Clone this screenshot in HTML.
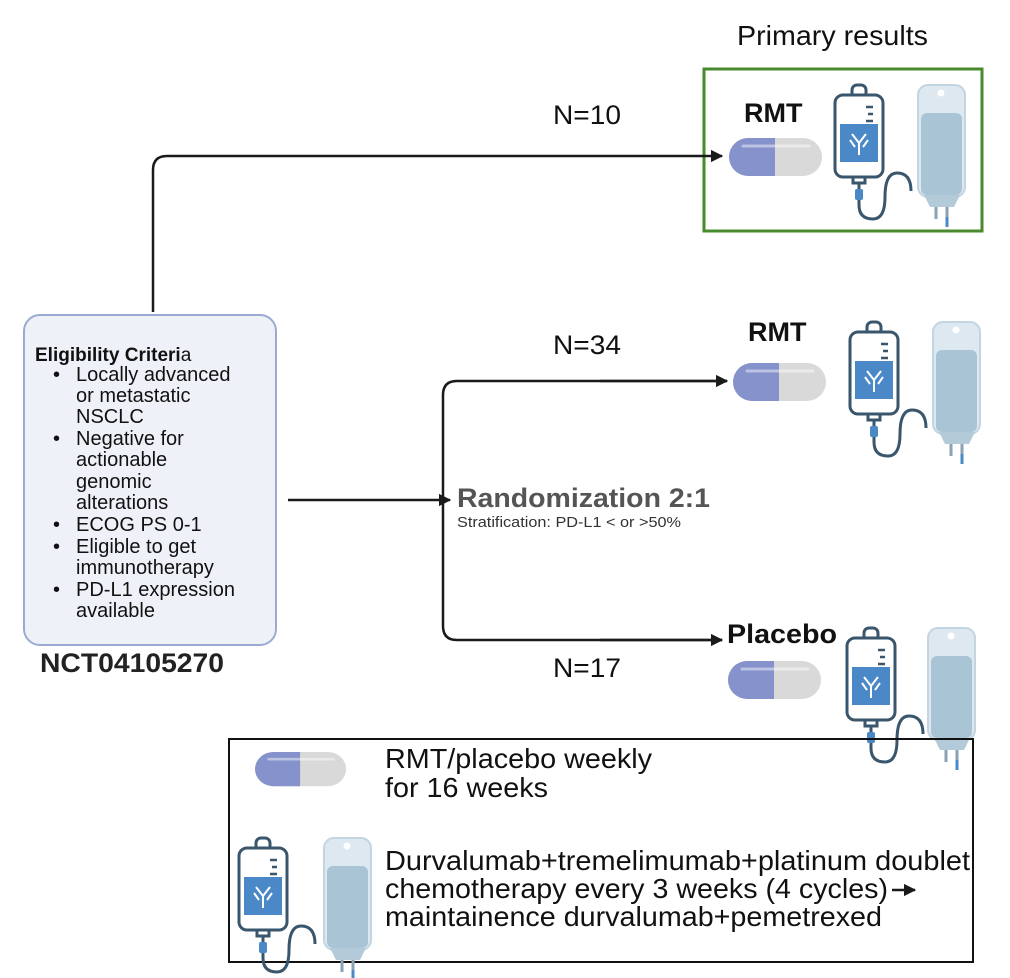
<!DOCTYPE html>
<html><head><style>
html,body{margin:0;padding:0;background:#fff;}
svg{display:block;font-family:"Liberation Sans",Arial,sans-serif;}
</style></head><body>
<svg width="1010" height="978" viewBox="0 0 1010 978" xmlns="http://www.w3.org/2000/svg">
<defs>
<marker id="ar" viewBox="0 0 10 10" refX="9" refY="5" markerWidth="5" markerHeight="5" orient="auto"><path d="M0,0 L10,5 L0,10 z" fill="#1a1a1a"/></marker>
<g id="pill">
<rect x="0" y="0" width="93" height="38" rx="19" fill="#d9d9d9"/>
<path d="M19,0 H46 V38 H19 A19,19 0 0 1 19,0 z" fill="#8592cc"/>
<line x1="14" y1="8" x2="80" y2="8" stroke="#fff" stroke-opacity="0.45" stroke-width="3" stroke-linecap="round"/>
</g>
<g id="iv">
<rect x="19" y="0" width="14" height="13" rx="5" fill="none" stroke="#3a566d" stroke-width="3"/>
<rect x="2" y="10" width="48" height="82" rx="8" fill="#fff" stroke="#3a566d" stroke-width="3"/>
<path d="M33,22 H40 M35,29 H40 M33,36 H40" stroke="#3a566d" stroke-width="2.5"/>
<rect x="7" y="39" width="38" height="38" fill="#4a88c7"/>
<path d="M26,70 V58 M26,58 L19,49 M26,58 L33,49 M22,62 L17,55 M30,62 L35,55" stroke="#fff" stroke-width="2" fill="none"/>
<path d="M20,92 V98 H32 V92" fill="none" stroke="#3a566d" stroke-width="3"/>
<path d="M26,98 V104 M26,114 V120 Q26,134 40,134 Q52,134 52,112 Q52,88 64,88 Q78,88 78,106" fill="none" stroke="#3a566d" stroke-width="3"/>
<rect x="22" y="104" width="8" height="11" rx="2" fill="#4a88c7"/>
</g>
<g id="bag">
<rect x="0" y="0" width="47" height="112" rx="10" fill="#dde8f0" stroke="#c2d5e1" stroke-width="2"/>
<rect x="3" y="28" width="41" height="82" rx="6" fill="#a9c4d4"/>
<circle cx="23" cy="8" r="3.5" fill="#fff"/>
<path d="M6,110 L12,122 H36 L42,110 z" fill="#b3cad8"/>
<path d="M18,122 V134 M29,122 V132" stroke="#8aa2b2" stroke-width="3"/>
<path d="M29,132 V142" stroke="#4a88c7" stroke-width="3"/>
</g>
</defs>

<text x="737" y="45" font-size="28" fill="#111" textLength="191" lengthAdjust="spacingAndGlyphs">Primary results</text>
<rect x="704" y="69" width="278" height="162" fill="none" stroke="#4a8a2e" stroke-width="3"/>

<rect x="24" y="315" width="252" height="330" rx="16" fill="#eef2f8" stroke="#9aaad0" stroke-width="2"/>
<g font-size="20" fill="#111">
<text x="35" y="361" font-size="19"><tspan font-weight="bold">Eligibility Criteri</tspan>a</text>
<text x="53" y="381">•</text><text x="76" y="381">Locally advanced</text>
<text x="76" y="402">or metastatic</text>
<text x="76" y="423">NSCLC</text>
<text x="53" y="445">•</text><text x="76" y="445">Negative for</text>
<text x="76" y="466">actionable</text>
<text x="76" y="488">genomic</text>
<text x="76" y="509">alterations</text>
<text x="53" y="553">•</text><text x="76" y="553">Eligible to get</text>
<text x="53" y="531">•</text><text x="76" y="531">ECOG PS 0-1</text>
<text x="76" y="574">immunotherapy</text>
<text x="53" y="596">•</text><text x="76" y="596">PD-L1 expression</text>
<text x="76" y="617">available</text>
</g>
<text x="40" y="672" font-size="27" font-weight="bold" fill="#222" textLength="184" lengthAdjust="spacingAndGlyphs">NCT04105270</text>

<path d="M153,312 V170 Q153,156 167,156 H722" fill="none" stroke="#1a1a1a" stroke-width="2.5" marker-end="url(#ar)"/>
<path d="M288,500 H450" fill="none" stroke="#1a1a1a" stroke-width="2.5" marker-end="url(#ar)"/>
<path d="M727,381 H457 Q443,381 443,395 V626 Q443,640 457,640 H722" fill="none" stroke="#1a1a1a" stroke-width="2.5"/>
<path d="M600,381 H727" fill="none" stroke="#1a1a1a" stroke-width="2.5" marker-end="url(#ar)"/>
<path d="M600,640 H722" fill="none" stroke="#1a1a1a" stroke-width="2.5" marker-end="url(#ar)"/>

<text x="553" y="124" font-size="27" fill="#111" textLength="68" lengthAdjust="spacingAndGlyphs">N=10</text>
<text x="553" y="354" font-size="27" fill="#111" textLength="68" lengthAdjust="spacingAndGlyphs">N=34</text>
<text x="553" y="677" font-size="27" fill="#111" textLength="68" lengthAdjust="spacingAndGlyphs">N=17</text>
<text x="457" y="507" font-size="27" font-weight="bold" fill="#555" textLength="253" lengthAdjust="spacingAndGlyphs">Randomization 2:1</text>
<text x="457" y="527" font-size="15" fill="#333" textLength="224" lengthAdjust="spacingAndGlyphs">Stratification: PD-L1 &lt; or &gt;50%</text>

<text x="744" y="122" font-size="27" font-weight="bold" fill="#111">RMT</text>
<text x="748" y="341" font-size="27" font-weight="bold" fill="#111">RMT</text>
<text x="727" y="643" font-size="27" font-weight="bold" fill="#111" textLength="110" lengthAdjust="spacingAndGlyphs">Placebo</text>

<use href="#pill" x="729" y="138"/>
<use href="#iv" x="833" y="85"/>
<use href="#bag" x="918" y="85"/>

<use href="#pill" x="733" y="363"/>
<use href="#iv" x="848" y="322"/>
<use href="#bag" x="933" y="322"/>

<use href="#pill" x="728" y="661"/>
<use href="#iv" x="845" y="628"/>
<use href="#bag" x="928" y="628"/>

<rect x="229" y="739" width="744" height="223" fill="none" stroke="#111" stroke-width="2"/>
<g transform="translate(255,752) scale(0.98,0.9)"><use href="#pill"/></g>
<use href="#iv" x="237" y="838"/>
<use href="#bag" x="324" y="838"/>
<g font-size="28" fill="#111">
<text x="385" y="768" textLength="267" lengthAdjust="spacingAndGlyphs">RMT/placebo weekly</text>
<text x="385" y="797" textLength="163" lengthAdjust="spacingAndGlyphs">for 16 weeks</text>
<text x="385" y="870" textLength="585" lengthAdjust="spacingAndGlyphs">Durvalumab+tremelimumab+platinum doublet</text>
<text x="385" y="898" textLength="503" lengthAdjust="spacingAndGlyphs">chemotherapy every 3 weeks (4 cycles)</text>
<text x="385" y="926" textLength="497" lengthAdjust="spacingAndGlyphs">maintainence durvalumab+pemetrexed</text>
</g>
<path d="M892,890 H915" stroke="#1a1a1a" stroke-width="2.5" marker-end="url(#ar)"/>
</svg>
</body></html>
